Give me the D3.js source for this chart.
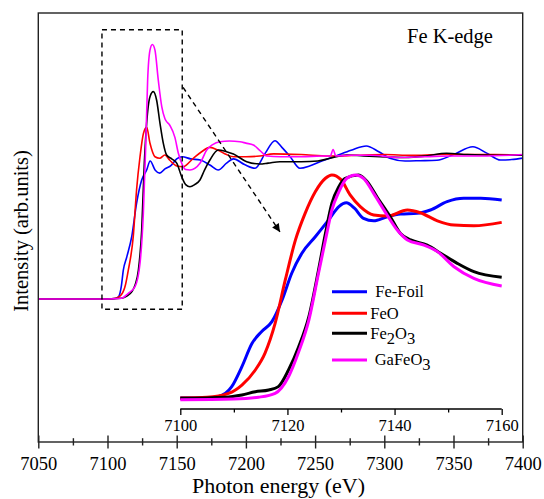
<!DOCTYPE html>
<html>
<head>
<meta charset="utf-8">
<script src="https://cdn.jsdelivr.net/npm/d3@7"></script>
</head>
<body style="margin:0;padding:0;background:#fff">
<svg id="chart" width="544" height="499" style="display:block"></svg>
<script>
// ---------------- DATA ----------------
const seriesNames = ["Fe-Foil", "FeO", "Fe2O3", "GaFeO3"];
const seriesColors = ["#0000ff", "#ff0000", "#000000", "#ff00ff"];

const mainTicks = [7050, 7100, 7150, 7200, 7250, 7300, 7350, 7400];
const mainMinorTicks = [7075, 7125, 7175, 7225, 7275, 7325, 7375];
const insetTicks = [7100, 7120, 7140, 7160];
const insetMinorTicks = [7110, 7130, 7150];

// Main panel: [photon energy (eV), normalized intensity]
const mainFeFoil = [[7050,0],[7100,0],[7106,0.005],[7108,0.016],[7110,0.09],[7111.4,0.2],[7114,0.296],[7117.5,0.436],[7121,0.669],[7124.7,0.832],[7128.3,0.902],[7130.8,0.965],[7134.5,0.9],[7137.7,0.88],[7141.5,0.91],[7146,0.935],[7150,0.98],[7154,0.995],[7160,0.98],[7167,0.972],[7174,0.937],[7180,0.902],[7186,0.95],[7191,0.98],[7199,0.94],[7206.6,0.914],[7214,1.02],[7221,1.107],[7226,1.06],[7232,0.995],[7239,0.914],[7246,0.93],[7253.5,0.96],[7265,1.0],[7276,1.04],[7287,1.07],[7296,1.03],[7304,0.984],[7315,0.965],[7326,0.967],[7338,0.97],[7350,1.01],[7364,1.065],[7374,1.02],[7384,0.972],[7392,0.975],[7400,0.985]];
const mainFeO = [[7050,0],[7100,0],[7106,0.005],[7110,0.03],[7113,0.1],[7115,0.2],[7118.6,0.436],[7121,0.762],[7123.5,0.995],[7126,1.159],[7128.3,1.2],[7130.7,1.089],[7134.3,0.995],[7137.7,0.984],[7141.5,1.007],[7145,0.97],[7150,0.93],[7154.5,0.925],[7162,0.984],[7168,1.03],[7174,1.06],[7180,1.04],[7186,1.01],[7191,0.995],[7200,0.995],[7210,1.0],[7220,1.015],[7240,1.01],[7260,1.0],[7280,1.005],[7300,1.01],[7320,1.005],[7340,1.01],[7360,1.01],[7380,1.01],[7400,1.005]];
const mainFe2O3 = [[7050,0],[7100,0],[7110,0.005],[7114,0.02],[7117.5,0.05],[7120,0.1],[7122.3,0.2],[7124.7,0.48],[7126.6,0.95],[7128.3,1.23],[7130.7,1.415],[7133.1,1.45],[7135.5,1.39],[7137.9,1.23],[7140.3,1.09],[7142.7,1.007],[7146.4,0.98],[7150,0.95],[7153.6,0.855],[7156.5,0.8],[7159.6,0.785],[7163,0.8],[7166.8,0.832],[7170,0.9],[7174,0.972],[7180,1.042],[7186,1.03],[7191,1.014],[7200.6,0.96],[7210,0.944],[7216,0.95],[7224.6,0.96],[7240,0.96],[7252,0.965],[7260.8,0.984],[7272.8,1.007],[7285,1.0],[7297,0.995],[7315,0.99],[7330,1.0],[7345,1.019],[7360,1.01],[7380,1.005],[7400,1.005]];
const mainGaFeO3 = [[7050,0],[7100,0],[7110,0.005],[7115,0.04],[7119.9,0.086],[7123.5,0.25],[7125.9,0.6],[7127.6,1.065],[7129,1.53],[7130.7,1.74],[7132.4,1.78],[7134.3,1.74],[7136.7,1.53],[7139.2,1.345],[7141.5,1.26],[7145,1.215],[7148.7,1.13],[7151.2,1.019],[7154,0.94],[7156.5,0.905],[7159.6,0.902],[7166.8,0.949],[7171.7,1.042],[7176,1.08],[7181.3,1.1],[7188,1.105],[7195.7,1.1],[7200,1.09],[7205.4,1.077],[7210,1.04],[7215,1.0],[7225,0.995],[7240,0.995],[7255,1.0],[7261,1.0],[7263,1.045],[7265,1.0],[7275,1.005],[7290,1.005],[7310,0.99],[7330,0.995],[7350,1.0],[7370,1.0],[7400,1.01]];

// Inset (zoomed XANES edge): [photon energy (eV), intensity]
const insetFeFoil = [[7100,0.005],[7105,0.005],[7107,0.01],[7109.6,0.055],[7111.5,0.144],[7113.4,0.248],[7115.2,0.3],[7117.1,0.344],[7119,0.44],[7120.8,0.559],[7122.7,0.648],[7125.2,0.721],[7127.7,0.796],[7129.6,0.855],[7131,0.872],[7132.5,0.848],[7134.2,0.803],[7136.1,0.792],[7138.6,0.81],[7141.1,0.822],[7144.2,0.825],[7146.7,0.84],[7149.8,0.877],[7152.9,0.892],[7156.1,0.892],[7160,0.884]];
const insetFeO = [[7100,0.005],[7105,0.008],[7109,0.025],[7111.5,0.062],[7114,0.129],[7115.8,0.203],[7117.7,0.336],[7119.6,0.529],[7121.5,0.707],[7123.3,0.825],[7125.2,0.921],[7127.1,0.981],[7128.3,0.996],[7130,0.975],[7131.7,0.907],[7133.6,0.855],[7136.1,0.818],[7138.6,0.813],[7142.4,0.84],[7144.8,0.828],[7148,0.792],[7151.1,0.773],[7154.8,0.77],[7160,0.785]];
const insetFe2O3 = [[7100,0.003],[7108.4,0.008],[7111.5,0.018],[7114,0.032],[7116.5,0.04],[7118.3,0.055],[7120.2,0.129],[7122.1,0.232],[7124,0.366],[7125.8,0.573],[7127.1,0.736],[7128.3,0.87],[7129.6,0.944],[7130.8,0.981],[7133.3,0.996],[7134.9,0.966],[7136.7,0.899],[7139.2,0.81],[7141.1,0.736],[7143,0.707],[7146.1,0.684],[7148.6,0.648],[7151.7,0.603],[7154.8,0.566],[7160,0.541]];
const insetGaFeO3 = [[7100,-0.003],[7110,0.0],[7114.6,0.008],[7117.7,0.025],[7120.2,0.099],[7122.1,0.21],[7124,0.351],[7125.8,0.559],[7127.1,0.707],[7128.3,0.84],[7129.6,0.921],[7131.1,0.981],[7132.7,0.996],[7134.2,0.981],[7136.1,0.914],[7138.6,0.818],[7140.5,0.751],[7142.4,0.707],[7145.5,0.684],[7148,0.655],[7151.1,0.588],[7154.8,0.536],[7160,0.502]];

const mainSeries = [mainFeFoil, mainFeO, mainFe2O3, mainGaFeO3];
const insetSeries = [insetFeFoil, insetFeO, insetFe2O3, insetGaFeO3];

// ---------------- LAYOUT ----------------
const FONT = "Liberation Serif";
const svg = d3.select("#chart");
const M = { left: 38.3, right: 522.7, top: 13, bottom: 442 };
const I = { left: 180.3, right: 501.7, zero: 399, one: 174, axisY: 409 };

const x = d3.scaleLinear().domain([7050, 7400]).range([M.left, M.right]);
const y = d3.scaleLinear().domain([-1, 2]).range([M.bottom, M.top]);
const xi = d3.scaleLinear().domain([7100, 7160]).range([I.left, I.right]);
const yi = d3.scaleLinear().domain([0, 1]).range([I.zero, I.one]);

function txt(sel, size) {
  return sel.attr("font-family", FONT).style("font-family", FONT)
    .style("font-size", size + "px").attr("fill", "#000");
}

// defs: arrow marker
const defs = svg.append("defs");
defs.append("marker").attr("id", "arrowhead")
  .attr("viewBox", "0 0 10 10").attr("refX", 10).attr("refY", 5)
  .attr("markerWidth", 11).attr("markerHeight", 8)
  .attr("markerUnits", "userSpaceOnUse")
  .attr("orient", "auto")
  .append("path").attr("d", "M0,0 L10,5 L0,10 Z").attr("fill", "#000");

// ---------------- MAIN CURVES ----------------
const lineMain = d3.line().x(d => x(d[0])).y(d => y(d[1])).curve(d3.curveMonotoneX);
svg.append("g").selectAll("path").data(mainSeries).join("path")
  .attr("d", lineMain)
  .attr("fill", "none")
  .attr("stroke", (d, i) => seriesColors[i])
  .attr("stroke-width", 1.6)
  .attr("stroke-linejoin", "round");

// ---------------- DASHED BOX + ARROW ----------------
svg.append("rect")
  .attr("x", x(7096)).attr("y", y(1.883))
  .attr("width", x(7154) - x(7096)).attr("height", y(-0.072) - y(1.883))
  .attr("fill", "none").attr("stroke", "#000").attr("stroke-width", 1.4)
  .attr("stroke-dasharray", "5,4");

svg.append("line")
  .attr("x1", x(7154.6)).attr("y1", y(1.48))
  .attr("x2", x(7224.6)).attr("y2", y(0.469))
  .attr("stroke", "#000").attr("stroke-width", 1.4)
  .attr("stroke-dasharray", "5,4")
  .attr("marker-end", "url(#arrowhead)");

// ---------------- INSET CURVES ----------------
const lineInset = d3.line().x(d => xi(d[0])).y(d => yi(d[1])).curve(d3.curveMonotoneX);
svg.append("g").selectAll("path").data(insetSeries).join("path")
  .attr("d", lineInset)
  .attr("fill", "none")
  .attr("stroke", (d, i) => seriesColors[i])
  .attr("stroke-width", 3)
  .attr("stroke-linejoin", "round");

// ---------------- INSET AXIS ----------------
const gi = svg.append("g").attr("transform", `translate(0,${I.axisY})`);
gi.call(d3.axisBottom(xi).tickValues(insetTicks).tickSize(6).tickFormat(d3.format("d")));
gi.attr("font-family", FONT);
gi.select(".domain").attr("d", `M${I.left},0H${I.right}`).attr("stroke-width", 1.3);
gi.selectAll(".tick line").attr("stroke-width", 1.3);
txt(gi.selectAll(".tick text").attr("dy", null).attr("y", 22), 16.5);
const gim = svg.append("g").attr("transform", `translate(0,${I.axisY})`);
gim.call(d3.axisBottom(xi).tickValues(insetMinorTicks).tickSize(3.5).tickFormat(""));
gim.select(".domain").remove();
gim.selectAll(".tick line").attr("stroke-width", 1.3);

// ---------------- MAIN FRAME + AXIS ----------------
svg.append("rect")
  .attr("x", M.left).attr("y", M.top)
  .attr("width", M.right - M.left).attr("height", M.bottom - M.top)
  .attr("fill", "none").attr("stroke", "#222").attr("stroke-width", 1.4);

const gx = svg.append("g").attr("transform", `translate(0,${M.bottom})`);
gx.call(d3.axisBottom(x).tickValues(mainTicks).tickSize(6.5).tickFormat(d3.format("d")));
gx.attr("font-family", FONT);
gx.select(".domain").remove();
gx.selectAll(".tick line").attr("y1", -6.5).attr("y2", 6.5).attr("stroke-width", 1.4).attr("stroke", "#222");
txt(gx.selectAll(".tick text").attr("dy", null).attr("y", 28), 18.5);
const gxm = svg.append("g").attr("transform", `translate(0,${M.bottom})`);
gxm.call(d3.axisBottom(x).tickValues(mainMinorTicks).tickSize(3.5).tickFormat(""));
gxm.select(".domain").remove();
gxm.selectAll(".tick line").attr("y1", -3.8).attr("y2", 3.5).attr("stroke-width", 1.4).attr("stroke", "#222");

// ---------------- TITLES ----------------
txt(svg.append("text").attr("x", 278.5).attr("y", 493).attr("text-anchor", "middle"), 22)
  .text("Photon energy (eV)");
txt(svg.append("text").attr("transform", "translate(28,231) rotate(-90)").attr("text-anchor", "middle"), 20.5)
  .text("Intensity (arb.units)");
txt(svg.append("text").attr("x", 407).attr("y", 43.3), 20.5).text("Fe K-edge");

// ---------------- LEGEND ----------------
const legendY = [291.7, 313.3, 333.3, 360];
const legendTextX = [375.3, 370.3, 370.3, 374.7];
const legendLabels = [
  [["Fe-Foil", false]],
  [["FeO", false]],
  [["Fe", false], ["2", true], ["O", false], ["3", true]],
  [["GaFeO", false], ["3", true]]
];
const lg = svg.append("g");
seriesNames.forEach((name, i) => {
  lg.append("line").attr("x1", 332).attr("x2", 367)
    .attr("y1", legendY[i]).attr("y2", legendY[i])
    .attr("stroke", seriesColors[i]).attr("stroke-width", 3);
  const t = txt(lg.append("text").attr("x", legendTextX[i]).attr("y", legendY[i] + 5.2), 16.5);
  let prevSub = false;
  legendLabels[i].forEach(([s, sub]) => {
    const ts = t.append("tspan").text(s);
    if (sub && !prevSub) ts.attr("dy", 5);
    if (!sub && prevSub) ts.attr("dy", -5);
    prevSub = sub;
  });
});
</script>
</body>
</html>
